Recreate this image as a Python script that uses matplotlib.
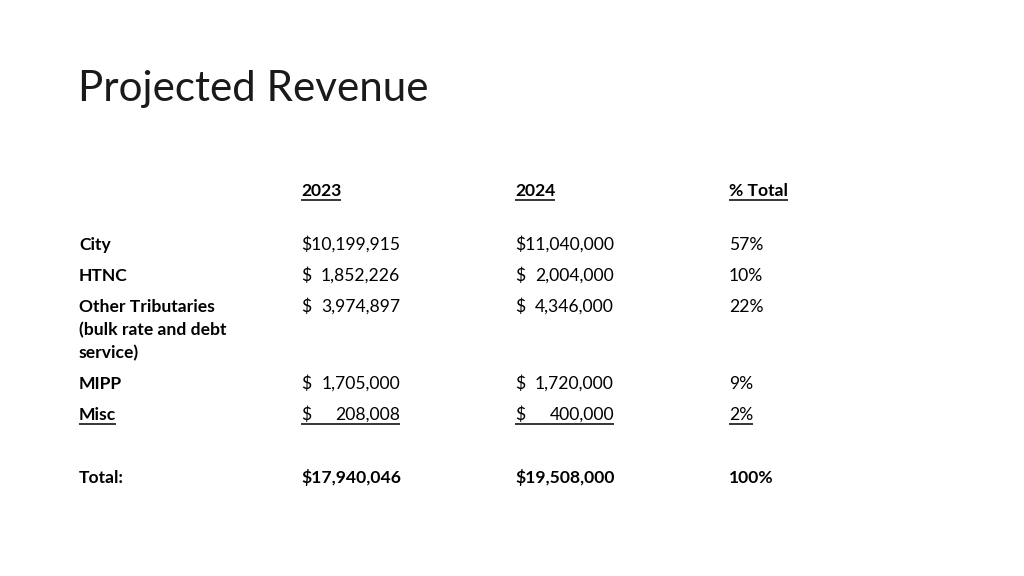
import matplotlib
matplotlib.use("Agg")
import matplotlib.pyplot as plt

# table data
title = "Projected Revenue"
years = ["2023", "2024"]
pct_header = "% Total"
labels = ["City", "HTNC", "Other Tributaries\n(bulk rate and debt\nservice)", "MIPP", "Misc"]
rev_2023 = [10199915, 1852226, 3974897, 1705000, 208008]
rev_2024 = [11040000, 2004000, 4346000, 1720000, 400000]
pct_total = [57, 10, 22, 9, 2]
total_label = "Total:"
total_2023 = 17940046
total_2024 = 19508000
total_pct = 100

FONT = "Lato"
FS = 12.6
plt.rcParams["font.family"] = [FONT, "DejaVu Sans"]

fig = plt.figure(figsize=(10.24, 5.76), dpi=100)
ax = fig.add_axes([0, 0, 1, 1])
ax.set_xlim(0, 1024)
ax.set_ylim(576, 0)
ax.axis("off")

ink = "#000000"

ax.text(78, 101, title, fontsize=30.3, fontweight="normal", color="#1a1a1a",
        va="baseline", ha="left")

col_x = [301, 515]       # left edge of the money columns
pct_x = 729

fig.canvas.draw()
renderer = fig.canvas.get_renderer()
inv = ax.transData.inverted()


def xspan(t):
    bb = t.get_window_extent(renderer=renderer)
    x0, _ = inv.transform((bb.x0, bb.y0))
    x1, _ = inv.transform((bb.x1, bb.y0))
    return x0, x1


def underline(t, y):
    x0, x1 = xspan(t)
    ax.plot([x0, x1], [y, y], color=ink, lw=1.1, solid_capstyle="butt")
    return x0, x1


# right edge of each money column = width of its widest plain entry
col_right = []
for x, vals in zip(col_x, [rev_2023, rev_2024]):
    probe = ax.text(x, 0, f"${max(vals):,}", fontsize=FS, va="baseline")
    col_right.append(xspan(probe)[1])
    probe.remove()

# header row
hy = 196
for yr, x in zip(years, col_x):
    t = ax.text(x, hy, yr, fontsize=FS, fontweight="bold", color=ink, va="baseline")
    underline(t, hy + 3.5)
t = ax.text(pct_x, hy, pct_header, fontsize=FS, fontweight="bold", color=ink, va="baseline")
underline(t, hy + 3.5)

row_y = [250, 281, 312, 389, 420]
for i, (lab, a, b, p) in enumerate(zip(labels, rev_2023, rev_2024, pct_total)):
    y = row_y[i]
    last = i == len(labels) - 1
    for k, ln in enumerate(lab.split("\n")):
        t = ax.text(79, y + 23 * k, ln, fontsize=FS, fontweight="bold", color=ink, va="baseline")
        if last:
            underline(t, y + 3.5)
    for val, x, xr, vals in zip([a, b], col_x, col_right, [rev_2023, rev_2024]):
        if val == max(vals):
            ax.text(x, y, f"${val:,}", fontsize=FS, color=ink, va="baseline", ha="left")
            continue
        ax.text(x, y, "$", fontsize=FS, color=ink, va="baseline", ha="left")
        ax.text(xr, y, f"{val:,}", fontsize=FS, color=ink, va="baseline", ha="right")
        if last:
            ax.plot([x, xr], [y + 3.5, y + 3.5], color=ink, lw=1.1, solid_capstyle="butt")
    t = ax.text(pct_x, y, f"{p}%", fontsize=FS, color=ink, va="baseline")
    if last:
        underline(t, y + 3.5)

# total row
ty = 483
ax.text(79, ty, total_label, fontsize=FS, fontweight="bold", color=ink, va="baseline")
ax.text(col_x[0], ty, f"${total_2023:,}", fontsize=FS, fontweight="bold", color=ink, va="baseline")
ax.text(col_x[1], ty, f"${total_2024:,}", fontsize=FS, fontweight="bold", color=ink, va="baseline")
ax.text(pct_x, ty, f"{total_pct}%", fontsize=FS, fontweight="bold", color=ink, va="baseline")

fig.savefig("out.png", dpi=100, facecolor="white")
